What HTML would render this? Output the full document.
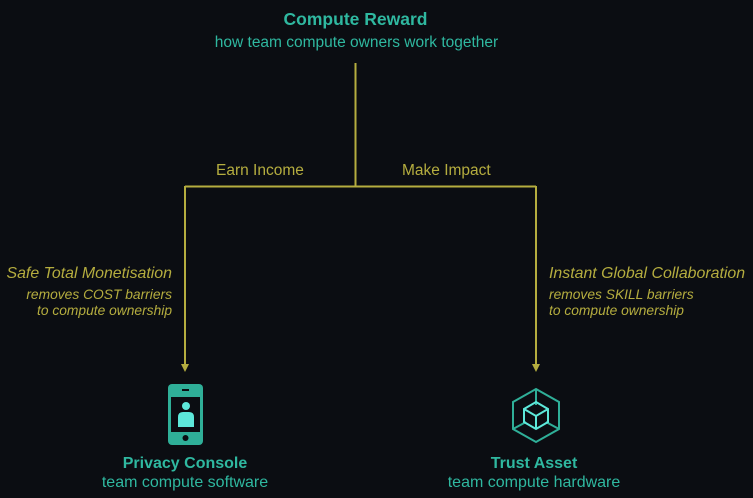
<!DOCTYPE html>
<html><head><style>
body{margin:0;width:753px;height:498px;background:#0b0d12;overflow:hidden;position:relative;font-family:"Liberation Sans",sans-serif}
.t{position:absolute;white-space:nowrap;line-height:20px}
.teal{color:#2fb8a0}
.y{color:#b5ad3f}
</style></head><body>
<svg width="753" height="498" style="position:absolute;left:0;top:0">
<g stroke="#b5ad3f" stroke-width="2" fill="none">
<path d="M355.5 63V186.5M185 186.5H536M185 186V366M536 186V366"/>
</g>
<path d="M181 364L185 372L189 364Z M532 364L536 372L540 364Z" fill="#b5ad3f"/>
<rect x="168" y="384" width="35" height="61" rx="4" fill="#2faf98"/>
<rect x="171" y="397" width="29" height="35" fill="#0b0d12"/>
<rect x="182" y="389" width="7" height="2" fill="#0b0d12"/>
<circle cx="185.5" cy="438" r="3" fill="#0b0d12"/>
<circle cx="186" cy="406" r="4" fill="#5de8da"/>
<path d="M178 427V417Q178 412 183 412H189Q194 412 194 417V427Z" fill="#5de8da"/>
<g fill="none" stroke-width="2">
<path stroke="#2faf98" d="M536 389L559 402V429L536 442L513 429V402Z M536 389V405 M513 429L526 422 M559 429L546 422"/>
<path stroke="#5de8da" d="M536 402L548 409V422L536 429L524 422V409Z M524 409L536 416L548 409 M536 416V429"/>
</g>
</svg>
<div class="t teal" style="left:0;width:711px;text-align:center;top:9px;font-weight:bold;font-size:17.5px">Compute Reward</div>
<div class="t teal" style="left:0;width:713px;text-align:center;top:33px;font-size:15.5px">how team compute owners work together</div>
<div class="t y" style="left:216px;top:161px;font-size:15.5px">Earn Income</div>
<div class="t y" style="left:402px;top:161px;font-size:15.5px">Make Impact</div>
<div class="t y" style="right:581px;top:264px;font-size:15.9px;font-style:italic;text-align:right">Safe Total Monetisation</div>
<div class="t y" style="right:581px;top:285px;font-size:13.8px;font-style:italic;text-align:right">removes COST barriers</div>
<div class="t y" style="right:581px;top:301px;font-size:13.8px;font-style:italic;text-align:right">to compute ownership</div>
<div class="t y" style="left:549px;top:264px;font-size:15.9px;font-style:italic">Instant Global Collaboration</div>
<div class="t y" style="left:549px;top:285px;font-size:13.8px;font-style:italic">removes SKILL barriers</div>
<div class="t y" style="left:549px;top:301px;font-size:13.8px;font-style:italic">to compute ownership</div>
<div class="t teal" style="left:85px;width:200px;text-align:center;top:454px;font-weight:bold;font-size:16px">Privacy Console</div>
<div class="t teal" style="left:85px;width:200px;text-align:center;top:473px;font-size:16px">team compute software</div>
<div class="t teal" style="left:434px;width:200px;text-align:center;top:454px;font-weight:bold;font-size:16px">Trust Asset</div>
<div class="t teal" style="left:434px;width:200px;text-align:center;top:473px;font-size:16px">team compute hardware</div>
</body></html>
